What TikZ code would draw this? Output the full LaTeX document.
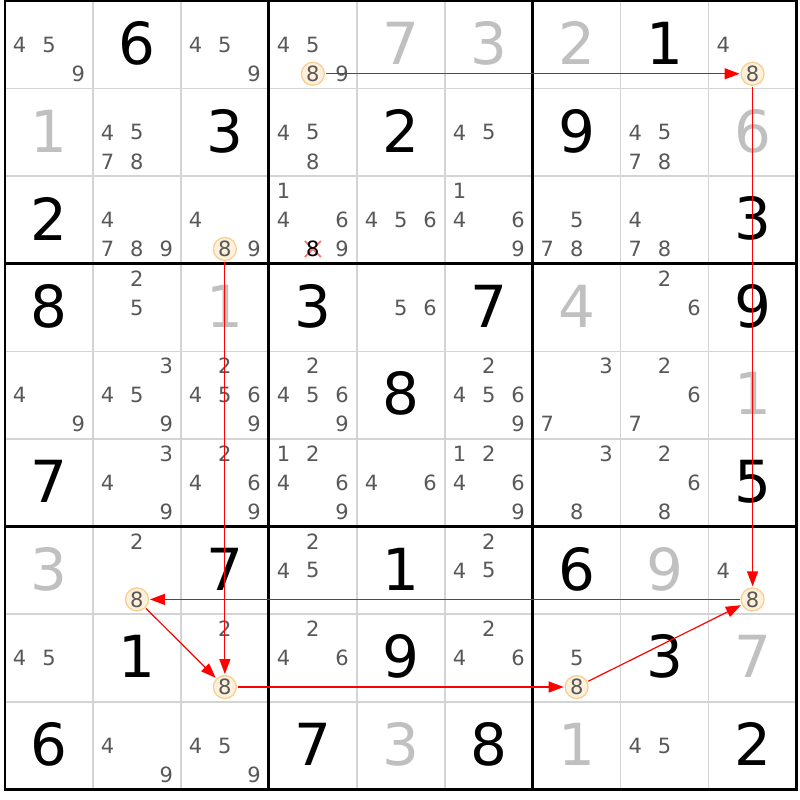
\documentclass[tikz,border=0pt]{standalone}
\usepackage{fontspec}
\setmainfont{DejaVu Sans}
\usetikzlibrary{arrows.meta}
\definecolor{candc}{HTML}{585858}
\definecolor{givc}{HTML}{C0C0C0}
\definecolor{thinc}{HTML}{D4D4D4}
\definecolor{hlfill}{HTML}{FEF0DA}
\definecolor{hldraw}{HTML}{F8CF92}
\tikzset{
  cand/.style={font=\fontsize{21}{21}\selectfont, text=candc, inner sep=0pt},
  solved/.style={font=\fontsize{58}{58}\selectfont, text=black, inner sep=0pt},
  given/.style={solved, text=givc},
  hl/.style={cand, circle, draw=hldraw, fill=hlfill, line width=1.3pt, minimum size=23pt, outer sep=1.5pt},
  elim/.style={cand, text=black},
  link/.style={draw=red, line width=1.2pt, -{Triangle[length=15pt,width=11pt]}},
  thinline/.style={draw=thinc, line width=1.5pt},
  thickline/.style={draw=black, line width=2.8pt, line cap=rect},
}
\newcommand\SolD[3]{%
  \pgfmathsetmacro\X{5+87.95*(#2-0.5)}\pgfmathsetmacro\Y{1+87.6*(#1-0.5)-1.5}%
  \node[solved] (s#1#2) at (\X,\Y) {#3};}
\newcommand\GivD[3]{%
  \pgfmathsetmacro\X{5+87.95*(#2-0.5)}\pgfmathsetmacro\Y{1+87.6*(#1-0.5)-1.5}%
  \node[given] (s#1#2) at (\X,\Y) {#3};}
\newcommand\CandXY[3]{%
  \pgfmathsetmacro\X{5+87.95*(#2-0.5)+29.3*(mod(#3-1,3)-1)}%
  \pgfmathsetmacro\Y{1+87.6*(#1-0.5)+29*(floor((#3-1)/3)-1)}}
\newcommand\Cands[3]{%
  \foreach \dg in {#3}{%
    \CandXY{#1}{#2}{\dg}%
    \node[cand] (n#1#2\dg) at (\X,\Y) {\dg};}}
\newcommand\HLC[3]{%
  \CandXY{#1}{#2}{#3}%
  \node[hl] (h#1#2) at (\X,\Y) {#3};}
\begin{document}
\begin{tikzpicture}[x=1pt,y=-1pt]
\useasboundingbox (0,0) rectangle (800,800);
\fill[white] (0,0) rectangle (800,800);
% grid
\foreach \i in {1,2,4,5,7,8}{
  \draw[thinline] (5+87.95*\i,1) -- (5+87.95*\i,789.4);
  \draw[thinline] (5,1+87.6*\i) -- (796.55,1+87.6*\i);
}
\foreach \i in {0,3,6,9}{
  \draw[thickline] (5+87.95*\i,1) -- (5+87.95*\i,789.4);
  \draw[thickline] (5,1+87.6*\i) -- (796.55,1+87.6*\i);
}
% row 1
\Cands{1}{1}{4,5,9} \SolD{1}{2}{6} \Cands{1}{3}{4,5,9}
\Cands{1}{4}{4,5,9} \HLC{1}{4}{8} \GivD{1}{5}{7} \GivD{1}{6}{3}
\GivD{1}{7}{2} \SolD{1}{8}{1} \Cands{1}{9}{4} \HLC{1}{9}{8}
% row 2
\GivD{2}{1}{1} \Cands{2}{2}{4,5,7,8} \SolD{2}{3}{3}
\Cands{2}{4}{4,5,8} \SolD{2}{5}{2} \Cands{2}{6}{4,5}
\SolD{2}{7}{9} \Cands{2}{8}{4,5,7,8} \GivD{2}{9}{6}
% row 3
\SolD{3}{1}{2} \Cands{3}{2}{4,7,8,9} \Cands{3}{3}{4,9} \HLC{3}{3}{8}
\Cands{3}{4}{1,4,6,9}
\CandXY{3}{4}{8}
\draw[red!55, line width=1.8pt] (\X-8,\Y-8) -- (\X+8,\Y+8) (\X-8,\Y+8) -- (\X+8,\Y-8);
\node[elim] (e348) at (\X,\Y) {8};
\Cands{3}{5}{4,5,6} \Cands{3}{6}{1,4,6,9}
\Cands{3}{7}{5,7,8} \Cands{3}{8}{4,7,8} \SolD{3}{9}{3}
% row 4
\SolD{4}{1}{8} \Cands{4}{2}{2,5} \GivD{4}{3}{1}
\SolD{4}{4}{3} \Cands{4}{5}{5,6} \SolD{4}{6}{7}
\GivD{4}{7}{4} \Cands{4}{8}{2,6} \SolD{4}{9}{9}
% row 5
\Cands{5}{1}{4,9} \Cands{5}{2}{3,4,5,9} \Cands{5}{3}{2,4,5,6,9}
\Cands{5}{4}{2,4,5,6,9} \SolD{5}{5}{8} \Cands{5}{6}{2,4,5,6,9}
\Cands{5}{7}{3,7} \Cands{5}{8}{2,6,7} \GivD{5}{9}{1}
% row 6
\SolD{6}{1}{7} \Cands{6}{2}{3,4,9} \Cands{6}{3}{2,4,6,9}
\Cands{6}{4}{1,2,4,6,9} \Cands{6}{5}{4,6} \Cands{6}{6}{1,2,4,6,9}
\Cands{6}{7}{3,8} \Cands{6}{8}{2,6,8} \SolD{6}{9}{5}
% row 7
\GivD{7}{1}{3} \Cands{7}{2}{2} \HLC{7}{2}{8} \SolD{7}{3}{7}
\Cands{7}{4}{2,4,5} \SolD{7}{5}{1} \Cands{7}{6}{2,4,5}
\SolD{7}{7}{6} \GivD{7}{8}{9} \Cands{7}{9}{4} \HLC{7}{9}{8}
% row 8
\Cands{8}{1}{4,5} \SolD{8}{2}{1} \Cands{8}{3}{2} \HLC{8}{3}{8}
\Cands{8}{4}{2,4,6} \SolD{8}{5}{9} \Cands{8}{6}{2,4,6}
\Cands{8}{7}{5} \HLC{8}{7}{8} \SolD{8}{8}{3} \GivD{8}{9}{7}
% row 9
\SolD{9}{1}{6} \Cands{9}{2}{4,9} \Cands{9}{3}{4,5,9}
\SolD{9}{4}{7} \GivD{9}{5}{3} \SolD{9}{6}{8}
\GivD{9}{7}{1} \Cands{9}{8}{4,5} \SolD{9}{9}{2}
% links
\draw[link] (h14) -- (h19);
\draw[link] (h19) -- (h79);
\draw[link] (h79) -- (h72);
\draw[link] (h72) -- (h83);
\draw[link] (h33) -- (h83);
\draw[link] (h83) -- (h87);
\draw[link] (h87) -- (h79);
\end{tikzpicture}
\end{document}
